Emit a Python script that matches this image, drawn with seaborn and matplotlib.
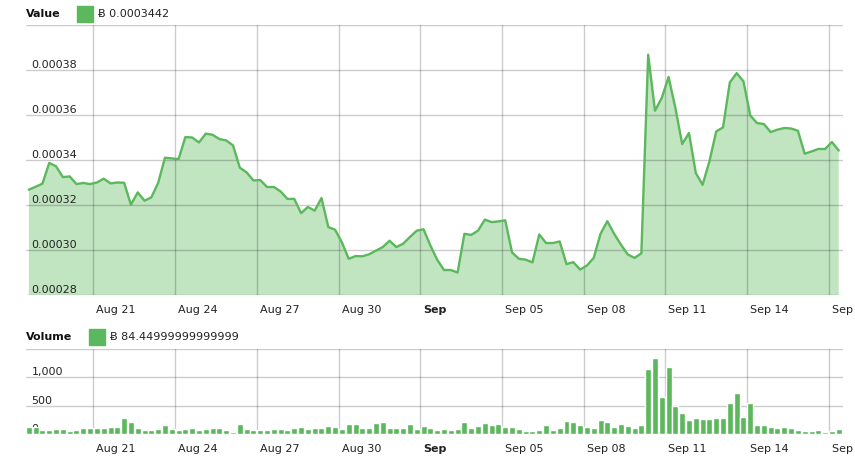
import pandas as pd
import seaborn as sns
import matplotlib.pyplot as plt
import matplotlib.dates as mdates
from matplotlib.patches import Rectangle
from matplotlib.transforms import ScaledTranslation

############################ DATA #############################

# 6-hourly samples starting Aug 18 15:00
start_time = "2014-08-18 15:00"

value = [
    0.0003268, 0.0003281, 0.0003295, 0.0003387, 0.0003372, 0.0003324, 0.0003327, 0.0003293, 0.0003298, 0.0003293,
    0.0003300, 0.0003317, 0.0003296, 0.0003300, 0.0003299, 0.0003201, 0.0003256, 0.0003219, 0.0003234, 0.0003298,
    0.0003410, 0.0003407, 0.0003404, 0.0003502, 0.0003500, 0.0003478, 0.0003517, 0.0003512, 0.0003493, 0.0003487,
    0.0003465, 0.0003366, 0.0003345, 0.0003309, 0.0003311, 0.0003280, 0.0003280, 0.0003260, 0.0003227, 0.0003227,
    0.0003164, 0.0003191, 0.0003175, 0.0003231, 0.0003102, 0.0003090, 0.0003034, 0.0002961, 0.0002973, 0.0002972,
    0.0002981, 0.0002997, 0.0003013, 0.0003041, 0.0003013, 0.0003028, 0.0003058, 0.0003086, 0.0003092, 0.0003020,
    0.0002957, 0.0002911, 0.0002911, 0.0002900, 0.0003072, 0.0003067, 0.0003086, 0.0003135, 0.0003124, 0.0003127,
    0.0003132, 0.0002989, 0.0002961, 0.0002957, 0.0002945, 0.0003069, 0.0003031, 0.0003031, 0.0003038, 0.0002937,
    0.0002946, 0.0002913, 0.0002931, 0.0002965, 0.0003072, 0.0003128, 0.0003072, 0.0003024, 0.0002980, 0.0002965,
    0.0002985, 0.0003868, 0.0003619, 0.0003676, 0.0003769, 0.0003631, 0.0003471, 0.0003520, 0.0003342, 0.0003290,
    0.0003394, 0.0003527, 0.0003545, 0.0003745, 0.0003786, 0.0003750, 0.0003598, 0.0003564, 0.0003560, 0.0003524,
    0.0003535, 0.0003542, 0.0003540, 0.0003530, 0.0003428, 0.0003438, 0.0003449, 0.0003449, 0.0003480, 0.0003442,
]

volume = [
    123, 123, 76, 76, 88, 88, 58, 76, 105, 105,
    105, 105, 123, 123, 287, 216, 105, 76, 76, 94,
    164, 94, 76, 88, 105, 76, 94, 105, 105, 76,
    41, 175, 94, 76, 76, 76, 94, 94, 76, 111,
    123, 99, 105, 105, 140, 123, 99, 175, 175, 105,
    105, 199, 211, 105, 105, 105, 181, 94, 152, 105,
    76, 88, 76, 94, 216, 105, 146, 193, 158, 181,
    123, 123, 94, 58, 58, 76, 158, 76, 105, 234,
    216, 158, 123, 105, 252, 216, 123, 175, 146, 105,
    158, 1147, 1334, 655, 1182, 497, 369, 252, 287, 269,
    269, 287, 287, 550, 725, 304, 550, 158, 158, 123,
    111, 123, 105, 76, 58, 58, 76, 35, 58, 84.45,
]

tick_dates = ["2014-08-21", "2014-08-24", "2014-08-27", "2014-08-30", "2014-09-02",
              "2014-09-05", "2014-09-08", "2014-09-11", "2014-09-14", "2014-09-17"]
tick_labels = ["Aug 21", "Aug 24", "Aug 27", "Aug 30", "Sep",
               "Sep 05", "Sep 08", "Sep 11", "Sep 14", "Sep 17"]

value_ticks = [0.00028, 0.00030, 0.00032, 0.00034, 0.00036, 0.00038, 0.00040]
value_tick_labels = ["0.00028", "0.00030", "0.00032", "0.00034", "0.00036", "0.00038", ""]
volume_ticks = [0, 500, 1000, 1500]
volume_tick_labels = ["0", "500", "1,000", ""]

value_legend = "\u0243 0.0003442"
volume_legend = "\u0243 84.44999999999999"

############################ PLOTTING #############################

GREEN = "#5cb85c"
W, H = 855, 469

sns.set_theme(style="white")
plt.rcParams['font.family'] = ['DejaVu Sans']

times = pd.date_range(start_time, periods=len(value), freq="6h")
df = pd.DataFrame({"x": mdates.date2num(times), "value": value, "volume": volume})
xlim = (mdates.date2num(times[0] - pd.Timedelta(hours=2.5)),
        mdates.date2num(times[-1] + pd.Timedelta(hours=3.5)))
tick_pos = mdates.date2num(pd.to_datetime(tick_dates))

fig = plt.figure(figsize=(W / 100, H / 100), dpi=100)
ax1 = fig.add_axes([26 / W, 1 - 295 / H, 816.7 / W, 270 / H])
ax2 = fig.add_axes([26 / W, 1 - 434.3 / H, 816.7 / W, 85.6 / H])

# value area
ax1.fill_between(df["x"], df["value"], 0, color=GREEN, alpha=0.38, linewidth=0)
sns.lineplot(data=df, x="x", y="value", ax=ax1, color=GREEN, linewidth=1.7, zorder=3)

# volume bars
sns.barplot(data=df, x="x", y="volume", ax=ax2, color=GREEN, native_scale=True,
            width=0.88, errorbar=None, orient="x", saturation=1, zorder=3)


def style_axes(ax, yticks, ylabels):
    ax.set_xlim(xlim)
    ax.set_ylim(yticks[0], yticks[-1])
    ax.set_yticks(yticks)
    ax.set_yticklabels(ylabels)
    ax.set_xticks(tick_pos)
    ax.set_xticklabels(tick_labels)
    ax.set_xlabel("")
    ax.set_ylabel("")
    ax.grid(True, color="black", alpha=0.2, linewidth=1)
    ax.set_axisbelow(False)
    for s in ax.spines.values():
        s.set_visible(False)
    ax.tick_params(axis="both", length=0, labelsize=8, colors="#222222")
    ax.tick_params(axis="y", pad=-4)
    ax.tick_params(axis="x", pad=7)
    for lab in ax.get_yticklabels():
        lab.set_horizontalalignment("left")
        lab.set_verticalalignment("bottom")
    offset = ScaledTranslation(3 / 100, 0, fig.dpi_scale_trans)
    for lab in ax.get_xticklabels():
        lab.set_horizontalalignment("left")
        lab.set_transform(lab.get_transform() + offset)
    ax.get_xticklabels()[4].set_fontweight("bold")


style_axes(ax1, value_ticks, value_tick_labels)
style_axes(ax2, volume_ticks, volume_tick_labels)

# headers with legend swatches
fig.text(26 / W, 1 - 14 / H, "Value", fontsize=8, fontweight="bold", va="center", color="#111111")
fig.patches.append(Rectangle((77 / W, 1 - 22 / H), 16 / W, 16 / H, transform=fig.transFigure,
                             color=GREEN))
fig.text(98 / W, 1 - 14 / H, value_legend, fontsize=8, va="center", color="#222222")

fig.text(26 / W, 1 - 337 / H, "Volume", fontsize=8, fontweight="bold", va="center", color="#111111")
fig.patches.append(Rectangle((89 / W, 1 - 345 / H), 16 / W, 16 / H, transform=fig.transFigure,
                             color=GREEN))
fig.text(110 / W, 1 - 337 / H, volume_legend, fontsize=8, va="center", color="#222222")

plt.savefig("out.png", dpi=100)
